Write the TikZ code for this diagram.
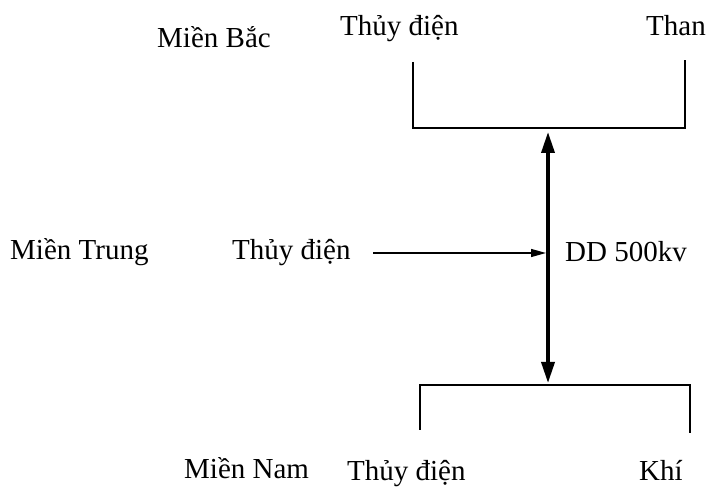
\documentclass[tikz,border=0pt]{standalone}
\usepackage{fontspec}
\setmainfont{Liberation Serif}
\usetikzlibrary{arrows.meta}
\begin{document}
\begin{tikzpicture}[x=1pt,y=1pt,
  lbl/.style={inner sep=0pt,anchor=base west,font=\fontsize{29}{31}\selectfont},
  bracket/.style={line width=1.6pt},
  thick arrow/.style={line width=3.5pt,{Triangle[length=21pt,width=13pt]}-{Triangle[length=21pt,width=13pt]}},
  thin arrow/.style={line width=1.3pt,-{Triangle[length=15pt,width=8pt]}}]
\useasboundingbox (0,0) rectangle (712,487);
% labels (y = 487 - image baseline)
\node[lbl] (bac) at (157,439) {Miền Bắc};
\node[lbl] (tdtop) at (340,451) {Thủy điện};
\node[lbl] (than) at (646,451) {Than};
\node[lbl] (trung) at (10,227) {Miền Trung};
\node[lbl] (tdmid) at (232,227) {Thủy điện};
\node[lbl] (dd) at (565,225) {DD 500kv};
\node[lbl] (nam) at (184,8) {Miền Nam};
\node[lbl] (tdbot) at (347,6) {Thủy điện};
\node[lbl] (khi) at (639,6) {Khí};
% top bracket
\coordinate (tl) at (413,425);
\coordinate (tr) at (685,427);
\coordinate (tbl) at (413,359);
\coordinate (tbr) at (685,359);
\draw[bracket] (tl) -- (tbl) -- (tbr) -- (tr);
% bottom bracket
\coordinate (bl) at (420,57);
\coordinate (br) at (690,54);
\coordinate (btl) at (420,102);
\coordinate (btr) at (690,102);
\draw[bracket] (bl) -- (btl) -- (btr) -- (br);
% vertical double arrow
\coordinate (vtop) at (548,355);
\coordinate (vbot) at (548,104);
\draw[thick arrow] (vbot) -- (vtop);
% horizontal arrow
\coordinate (hs) at (373,234);
\coordinate (he) at (546,234);
\draw[thin arrow] (hs) -- (he);
\end{tikzpicture}
\end{document}
